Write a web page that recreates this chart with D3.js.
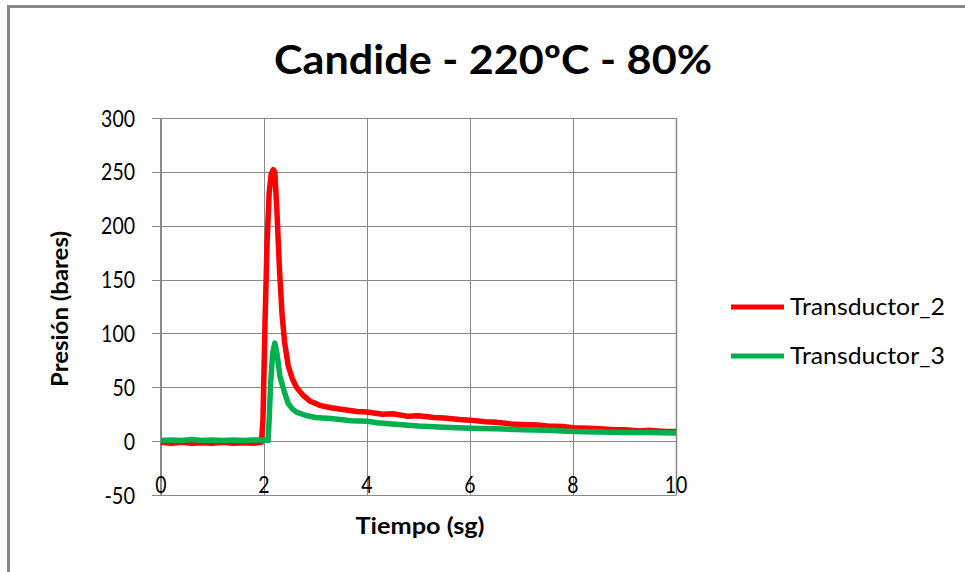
<!DOCTYPE html>
<html>
<head>
<meta charset="utf-8">
<script src="https://cdn.jsdelivr.net/npm/d3@7"></script>
<style>
  html, body { margin: 0; padding: 0; background: #fff; }
  svg { display: block; }
</style>
</head>
<body>
<svg id="chart" width="965" height="572"></svg>
<script>
// ---- data ----
const chartTitle = "Candide - 220ºC - 80%";
const xTitle = "Tiempo (sg)";
const yTitle = "Presión (bares)";
const seriesNames = ["Transductor_2", "Transductor_3"];
const seriesColors = ["#ff0000", "#00b050"];
const xTicks = [0, 2, 4, 6, 8, 10];
const yTicks = [-50, 0, 50, 100, 150, 200, 250, 300];

const time2 = [0, 0.2, 0.4, 0.6, 0.8, 1.0, 1.2, 1.4, 1.6, 1.8, 1.95, 1.98, 2.02, 2.06, 2.1, 2.14, 2.18, 2.21, 2.25, 2.3, 2.35, 2.4, 2.47, 2.55, 2.63, 2.75, 2.9, 3.1, 3.3, 3.6, 3.8, 4.0, 4.3, 4.5, 4.8, 5.0, 5.3, 5.5, 5.8, 6.0, 6.3, 6.5, 6.8, 7.0, 7.3, 7.5, 7.8, 8.0, 8.3, 8.5, 8.8, 9.0, 9.3, 9.5, 9.8, 10];
const pres2 = [-1, -2, -1, -2, -1.5, -2, -1, -2, -1.5, -2, -1, 20, 110, 185, 230, 248, 252, 250, 215, 160, 118, 92, 70, 58, 50, 43, 37, 33, 31, 29, 27.5, 27, 25, 25.5, 23, 23.5, 22, 21.5, 20, 19.5, 18, 17.5, 16, 15.5, 15, 14, 13.5, 12.5, 12, 11.5, 10.5, 10.5, 9.5, 10, 9, 9];

const time3 = [0, 0.2, 0.4, 0.6, 0.8, 1.0, 1.2, 1.4, 1.6, 1.8, 2.0, 2.08, 2.1, 2.13, 2.17, 2.21, 2.25, 2.31, 2.4, 2.47, 2.55, 2.63, 2.8, 3.0, 3.3, 3.7, 4.0, 4.2, 4.6, 5, 5.5, 6, 6.5, 7, 7.5, 8, 8.5, 9, 9.5, 10];
const pres3 = [0.5, 1, 0.5, 1.5, 0.5, 1, 0.5, 1, 0.5, 1, 1, 0.5, 20, 55, 82, 91, 82, 60, 45, 35, 30, 27, 24, 22, 21, 19, 18.5, 17, 15.5, 14, 13, 12, 11.5, 10.5, 10, 9, 8.5, 8, 8, 7.5];

// ---- layout ----
const svg = d3.select("#chart");
const FONT = "Lato, 'Open Sans', sans-serif";
const plot = { left: 161, right: 676, top: 118, bottom: 495 };

const x = d3.scaleLinear().domain([0, 10]).range([plot.left, plot.right]);
const y = d3.scaleLinear().domain([-50, 300]).range([plot.bottom, plot.top]);

// chart frame
svg.append("rect")
  .attr("x", 8.5).attr("y", 6.5).attr("width", 1000).attr("height", 1000)
  .attr("fill", "none").attr("stroke", "#878787").attr("stroke-width", 3);

// title
svg.append("text")
  .attr("x", 493).attr("y", 74)
  .attr("text-anchor", "middle")
  .attr("font-family", FONT).attr("font-weight", "bold").attr("font-size", 40)
  .attr("textLength", 438).attr("lengthAdjust", "spacingAndGlyphs")
  .attr("fill", "#000")
  .text(chartTitle);

// horizontal gridlines (with left tick marks)
svg.append("g").selectAll("line").data(yTicks).join("line")
  .attr("x1", plot.left - 9).attr("x2", plot.right)
  .attr("y1", d => Math.round(y(d)) + 0.5).attr("y2", d => Math.round(y(d)) + 0.5)
  .attr("stroke", "#888").attr("stroke-width", 1);

// vertical gridlines
svg.append("g").selectAll("line").data(xTicks.slice(1)).join("line")
  .attr("x1", d => Math.round(x(d)) + 0.5).attr("x2", d => Math.round(x(d)) + 0.5)
  .attr("y1", plot.top).attr("y2", plot.bottom + 0.5)
  .attr("stroke", "#888").attr("stroke-width", d => d === 10 ? 1.5 : 1);

// y axis line
svg.append("line")
  .attr("x1", plot.left).attr("x2", plot.left)
  .attr("y1", plot.top).attr("y2", plot.bottom + 1)
  .attr("stroke", "#888").attr("stroke-width", 2);

const labelLen = s => String(s).replace(/[^0-9]/g, "").length * 11.3 + (String(s).includes("-") ? 8 : 0);

// y tick labels
svg.append("g").selectAll("text").data(yTicks).join("text")
  .attr("x", 135).attr("y", d => y(d))
  .attr("dy", "0.36em")
  .attr("text-anchor", "end")
  .attr("font-family", FONT).attr("font-size", 24)
  .attr("textLength", d => labelLen(d)).attr("lengthAdjust", "spacingAndGlyphs")
  .attr("fill", "#000")
  .text(d => d);

// x tick labels (low position)
svg.append("g").selectAll("text").data(xTicks).join("text")
  .attr("x", d => x(d)).attr("y", 493)
  .attr("text-anchor", "middle")
  .attr("font-family", FONT).attr("font-size", 24)
  .attr("textLength", d => labelLen(d)).attr("lengthAdjust", "spacingAndGlyphs")
  .attr("fill", "#000")
  .text(d => d);

// axis titles
svg.append("text")
  .attr("x", 420).attr("y", 534)
  .attr("text-anchor", "middle")
  .attr("font-family", FONT).attr("font-weight", "bold").attr("font-size", 23)
  .attr("textLength", 129).attr("lengthAdjust", "spacingAndGlyphs")
  .text(xTitle);

svg.append("text")
  .attr("transform", "translate(68,309) rotate(-90)")
  .attr("text-anchor", "middle")
  .attr("font-family", FONT).attr("font-weight", "bold").attr("font-size", 23)
  .attr("textLength", 156).attr("lengthAdjust", "spacingAndGlyphs")
  .text(yTitle);

// series
const line = d3.line().x(d => x(d[0])).y(d => y(d[1]));
const series = [
  d3.zip(time2, pres2),
  d3.zip(time3, pres3)
];
svg.append("g").selectAll("path").data(series).join("path")
  .attr("d", d => line(d))
  .attr("fill", "none")
  .attr("stroke", (d, i) => seriesColors[i])
  .attr("stroke-width", 5.5)
  .attr("stroke-linejoin", "round")
  .attr("stroke-linecap", "butt");

// legend
const legendY = [307, 356];
const lg = svg.append("g").selectAll("g").data(seriesNames).join("g");
lg.append("line")
  .attr("x1", 731).attr("x2", 784)
  .attr("y1", (d, i) => legendY[i]).attr("y2", (d, i) => legendY[i])
  .attr("stroke", (d, i) => seriesColors[i]).attr("stroke-width", 5);
lg.append("text")
  .attr("x", 790).attr("y", (d, i) => legendY[i] + 8)
  .attr("font-family", FONT).attr("font-size", 24)
  .attr("textLength", 155).attr("lengthAdjust", "spacingAndGlyphs")
  .attr("fill", "#000")
  .text(d => d);
</script>
</body>
</html>
